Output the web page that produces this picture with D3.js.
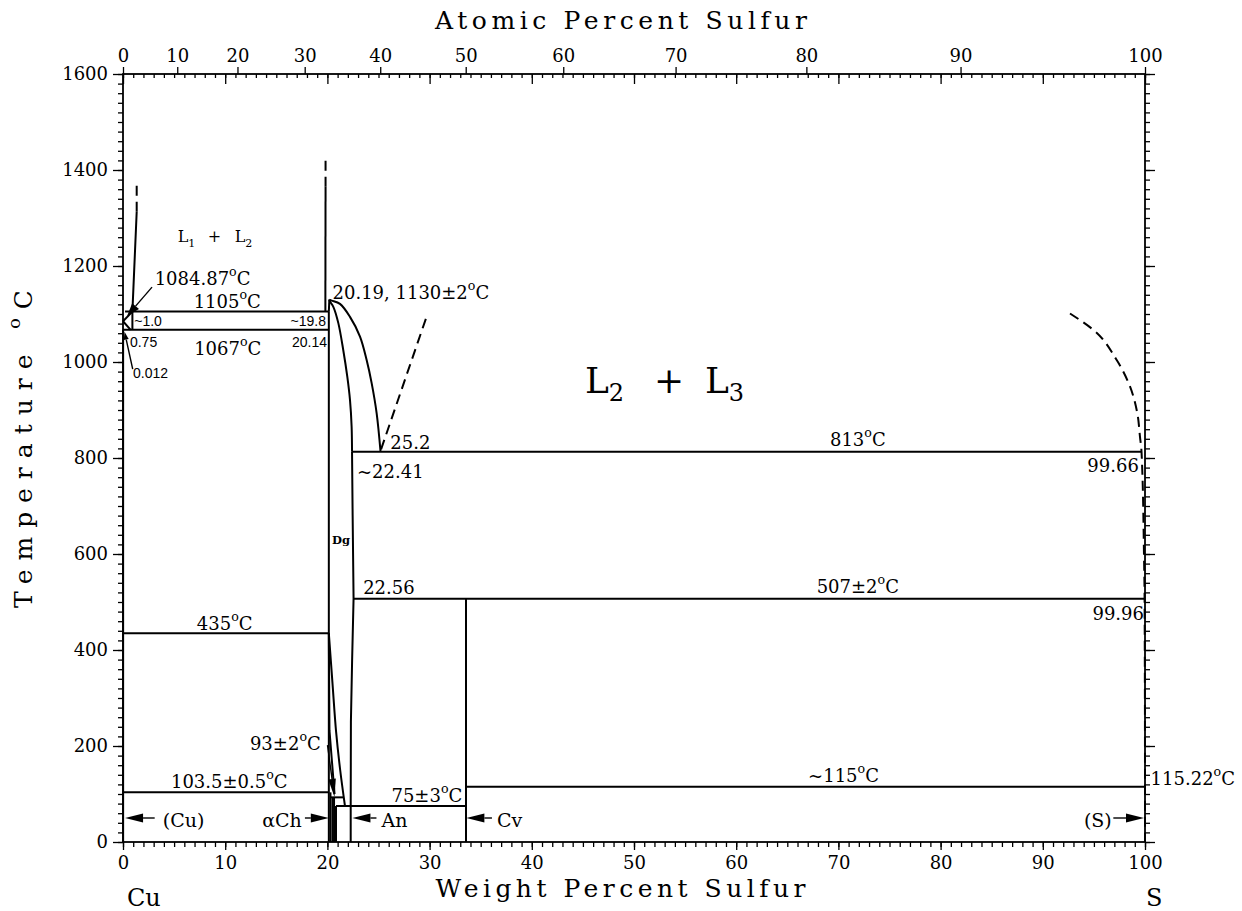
<!DOCTYPE html>
<html><head><meta charset="utf-8">
<script src="https://cdn.jsdelivr.net/npm/d3@7"></script>
<style>
html,body{margin:0;padding:0;background:#fff;}
svg{display:block;}
</style></head>
<body>
<svg id="chart" width="1242" height="911"></svg>
<script>
// ================= DATA =================
const weightTickLabels = [0,10,20,30,40,50,60,70,80,90,100];
const atomicTickLabels = [0,10,20,30,40,50,60,70,80,90,100];
const tempTickLabels   = [0,200,400,600,800,1000,1200,1400,1600];
const massCu = 63.546, massS = 32.06;

// invariant (horizontal) reactions: temperature, from wt%, to wt%
const isoTemps = [1105, 1067, 813,   507,   435, 115,   103.5, 93,    75];
const isoFrom  = [0.2,  0,    22.41, 22.56, 0,   33.56, 0,     20.25, 20.84];
const isoTo    = [20.14,20.14,99.66, 99.96, 20.14,100,  20.14, 21.55, 33.56];

// vertical phase lines: wt%, top temperature, bottom temperature
const vertWt  = [20.14, 20.3,  20.5, 20.65, 20.84, 33.56, 0.012];
const vertTop = [1105,  103.5, 93,   93,    75,    507,   1067];
const vertBot = [0,     0,     0,    0,     0,     0,     0];

// boundary curves [wt% S, °C]
const cuMeltA    = [[0,1084.87],[0.92,1105]];
const cuMeltB    = [[0,1084.87],[0.75,1067]];
const l1Solid    = [[0.92,1067],[0.92,1105],[1.34,1313]];
const l1Dash     = [[1.34,1313],[1.34,1373]];
const l2Solid    = [[19.8,1105],[19.82,1365]];
const l2Dash     = [[19.82,1365],[19.82,1421]];
const domeLeft   = [[20.14,1105],[20.19,1130]];
const liquidusL2 = [[20.19,1130],[20.42,1128],[21.23,1121],[22.21,1094],[23.19,1053],[23.84,1004],[24.33,956],[24.82,893],[25.2,813]];
const solidusDg  = [[20.19,1130],[20.25,1126],[20.58,1115],[21.07,1081],[21.55,1025],[21.95,969],[22.21,921],[22.37,865],[22.41,813]];
const dgRight    = [[22.41,813],[22.47,680],[22.56,507],[22.42,380],[22.3,250],[22.28,75],[22.28,0]];
const dgLeftLow  = [[20.14,435],[20.5,330],[20.85,230],[21.25,150],[21.72,75]];
const chLow      = [[20.14,435],[20.2,233],[20.7,100]];
const l3Dash     = [[25.25,818],[29.65,1091]];
const sDash      = [[92.66,1101],[94.94,1067],[97.23,1004],[98.53,949],[99.25,893],[99.51,844],[99.66,813],[99.9,600],[99.96,507],[100,115.22],[100,0]];

// text annotations: text, wt%, °C, anchor
const annText   = ["1084.87°C","1105°C","1067°C","20.19, 1130±2°C","25.2","~22.41","813°C","99.66","22.56","507±2°C","99.96","435°C","93±2°C","103.5±0.5°C","75±3°C","~115°C","115.22°C"];
const annWt     = [3.1, 10.2, 10.25, 20.5, 26.15, 22.9, 71.9, 99.4, 23.5, 71.9, 99.9, 9.95, 19.35, 10.4, 33.2, 70.5, 100.55];
const annT      = [1160, 1112, 1015, 1132, 819, 758, 825, 771, 516, 519, 462, 442, 192, 113, 83, 125, 119];
const annAnchor = ["start","middle","middle","start","start","start","middle","end","start","middle","end","middle","end","middle","end","middle","start"];

const smallText   = ["~1.0","~19.8","0.75","20.14","0.012"];
const smallWt     = [1.1, 19.86, 0.68, 19.96, 0.98];
const smallT      = [1074, 1074, 1031, 1031, 966];
const smallAnchor = ["start","end","start","end","start"];

// phase arrows at the bottom
const phaseNames  = ["(Cu)","αCh","An","Cv","(S)"];
const phaseTip    = [0.2, 20.14, 22.45, 33.6, 99.9];
const phaseTail   = [3.1, 17.8, 24.8, 36.1, 96.9];
const phaseLabWt  = [3.9, 17.5, 25.3, 36.6, 96.75];
const phaseAnchor = ["start","end","start","start","end"];
const phaseArrowT = 50, phaseLabelT = 31;

// ================= DRAWING =================
const svg = d3.select("#chart");
const x = d3.scaleLinear().domain([0,100]).range([123,1145]);
const y = d3.scaleLinear().domain([0,1600]).range([842,74]);
const SERIF = "'DejaVu Serif','Liberation Serif',serif";
const SANS  = "'Liberation Sans',Arial,sans-serif";
const atToWt = a => 100*a*massS/(a*massS + (100-a)*massCu);

// axes
function styleAxis(g){ g.select(".domain").remove(); g.selectAll("line").attr("stroke","#000").attr("stroke-width",1.3);
  g.attr("font-family",SERIF).attr("font-size",18); g.selectAll("text").attr("fill","#000"); }
const minorWt = d3.range(0,101,1), minorT = d3.range(0,1601,20);
svg.append("g").attr("transform",`translate(0,${y(0)})`).call(d3.axisBottom(x).tickValues(minorWt).tickSize(5).tickFormat("")).call(styleAxis);
svg.append("g").attr("transform",`translate(0,${y(0)})`).call(d3.axisBottom(x).tickValues(weightTickLabels).tickSize(8).tickPadding(6).tickFormat(d3.format("d"))).call(styleAxis);
svg.append("g").attr("transform",`translate(0,${y(1600)})`).call(d3.axisBottom(x).tickValues(minorWt).tickSize(4).tickFormat("")).call(styleAxis);
svg.append("g").attr("transform",`translate(0,${y(1600)})`).call(d3.axisBottom(x).tickValues(weightTickLabels).tickSize(10).tickFormat("")).call(styleAxis);
svg.append("g").attr("transform",`translate(0,${y(1600)})`).call(d3.axisTop(x).tickValues(atomicTickLabels.map(atToWt)).tickSize(7).tickPadding(5).tickFormat((d,i)=>atomicTickLabels[i])).call(styleAxis);
svg.append("g").attr("transform",`translate(${x(0)},0)`).call(d3.axisLeft(y).tickValues(minorT).tickSize(5).tickFormat("")).call(styleAxis);
svg.append("g").attr("transform",`translate(${x(0)},0)`).call(d3.axisLeft(y).tickValues(tempTickLabels).tickSize(10).tickPadding(5).tickFormat(d3.format("d"))).call(styleAxis);
svg.append("g").attr("transform",`translate(${x(100)},0)`).call(d3.axisRight(y).tickValues(minorT).tickSize(5).tickFormat("")).call(styleAxis);
svg.append("g").attr("transform",`translate(${x(100)},0)`).call(d3.axisRight(y).tickValues(tempTickLabels).tickSize(10).tickFormat("")).call(styleAxis);

svg.append("rect").attr("x",x(0)).attr("y",y(1600)).attr("width",x(100)-x(0)).attr("height",y(0)-y(1600))
  .attr("fill","none").attr("stroke","#000").attr("stroke-width",1.8);

// phase lines
const g = svg.append("g").attr("fill","none").attr("stroke","#000").attr("stroke-width",2);
isoTemps.forEach((T,i)=> g.append("line").attr("x1",x(isoFrom[i])).attr("x2",x(isoTo[i])).attr("y1",y(T)).attr("y2",y(T)));
vertWt.forEach((w,i)=> g.append("line").attr("x1",x(w)).attr("x2",x(w)).attr("y1",y(vertTop[i])).attr("y2",y(vertBot[i])));

const lineLin = d3.line().x(d=>x(d[0])).y(d=>y(d[1]));
const lineCR  = d3.line().x(d=>x(d[0])).y(d=>y(d[1])).curve(d3.curveCatmullRom.alpha(0.5));
const lineMY  = d3.line().x(d=>x(d[0])).y(d=>y(d[1])).curve(d3.curveMonotoneY);
[cuMeltA,cuMeltB,l1Solid,l2Solid,domeLeft,dgRight,chLow].forEach(d=>g.append("path").attr("d",lineLin(d)));
[liquidusL2,solidusDg,dgLeftLow].forEach(d=>g.append("path").attr("d",lineCR(d)));
[l1Dash,l2Dash,l3Dash].forEach(d=>g.append("path").attr("d",lineLin(d)).attr("stroke-dasharray","10,6"));
g.append("path").attr("d",lineMY(sDash)).attr("stroke-dasharray","10,6");

// arrows
function arrow(p0,p1,len,hw){
  const dx=p1[0]-p0[0], dy=p1[1]-p0[1], L=Math.hypot(dx,dy), ux=dx/L, uy=dy/L;
  const bx=p1[0]-ux*len, by=p1[1]-uy*len;
  svg.append("line").attr("x1",p0[0]).attr("y1",p0[1]).attr("x2",bx).attr("y2",by).attr("stroke","#000").attr("stroke-width",1.4);
  svg.append("path").attr("d",`M${p1[0]},${p1[1]}L${bx-uy*hw},${by+ux*hw}L${bx+uy*hw},${by-ux*hw}Z`).attr("fill","#000");
}
phaseNames.forEach((n,i)=>arrow([x(phaseTail[i]),y(phaseArrowT)],[x(phaseTip[i]),y(phaseArrowT)],18,4.5));
arrow([x(2.84),y(1156)],[x(0.4),y(1096)],13,4.5);
arrow([x(0.95),y(985)],[x(0.15),y(1063)],8,2.5);
arrow([x(20.01),y(202)],[x(20.69),y(94)],18,3.8);

// text helpers
function label(str, wt, T, anchor, size, family, weight){
  const t = svg.append("text").attr("x",x(wt)).attr("y",y(T)).attr("text-anchor",anchor)
    .attr("font-family",family||SERIF).attr("font-size",size).attr("fill","#000");
  if(weight) t.attr("font-weight",weight);
  const parts = str.split("°");
  t.append("tspan").text(parts[0]);
  for(let i=1;i<parts.length;i++){
    t.append("tspan").attr("font-size",size*0.7).attr("dy",-size*0.5).text("o");
    t.append("tspan").attr("dy",size*0.5).text(parts[i]);
  }
  return t;
}
annText.forEach((s,i)=>label(s,annWt[i],annT[i],annAnchor[i],18));
smallText.forEach((s,i)=>label(s,smallWt[i],smallT[i],smallAnchor[i],14,SANS));
phaseNames.forEach((s,i)=>label(s,phaseLabWt[i],phaseLabelT,phaseAnchor[i],19));
label("Dg",20.45,621,"start",11.5,SERIF,"bold");

function liquidLabel(a,b,wt,T,size,sub,dySub,plusOff,secondOff){
  const x0=x(wt), y0=y(T);
  const t = svg.append("text").attr("x",x0).attr("y",y0).attr("font-family",SERIF).attr("font-size",size).attr("fill","#000");
  t.append("tspan").text("L");
  t.append("tspan").attr("font-size",sub).attr("dy",dySub).text(a);
  t.append("tspan").attr("x",x0+plusOff).attr("dy",-dySub).text("+");
  t.append("tspan").attr("x",x0+secondOff).text("L");
  t.append("tspan").attr("font-size",sub).attr("dy",dySub).text(b);
}
liquidLabel("1","2",5.35,1249,16,11,5,30,57);
liquidLabel("2","3",45.2,935,36,24,8,69,120);

// axis titles
function title(str, cx, cy, len, size, rot){
  const t = svg.append("text").attr("font-family",SERIF).attr("font-size",size).attr("fill","#000")
    .attr("text-anchor","start");
  const parts = str.split("°");
  t.append("tspan").text(parts[0]);
  for(let i=1;i<parts.length;i++){
    t.append("tspan").attr("font-size",size*0.7).attr("dy",-size*0.5).text("o");
    t.append("tspan").attr("dy",size*0.5).text(parts[i]);
  }
  const nat = t.node().getComputedTextLength();
  const n = str.length;
  const ls = (len-nat)/(n-1);
  t.attr("letter-spacing",ls);
  if(rot){ t.attr("transform",`translate(${cx},${cy}) rotate(-90)`).attr("x",-len/2).attr("y",0); }
  else { t.attr("x",cx-len/2).attr("y",cy); }
}
title("Atomic Percent Sulfur",621,29,372,25,false);
title("Weight Percent Sulfur",620.5,897,370,25,false);
title("Temperature °C",32,449,318,25,true);
svg.append("text").attr("x",x(0)+4).attr("y",906).attr("font-family",SERIF).attr("font-size",24).text("Cu");
svg.append("text").attr("x",x(100)+1).attr("y",906).attr("font-family",SERIF).attr("font-size",24).text("S");
</script>
</body></html>
